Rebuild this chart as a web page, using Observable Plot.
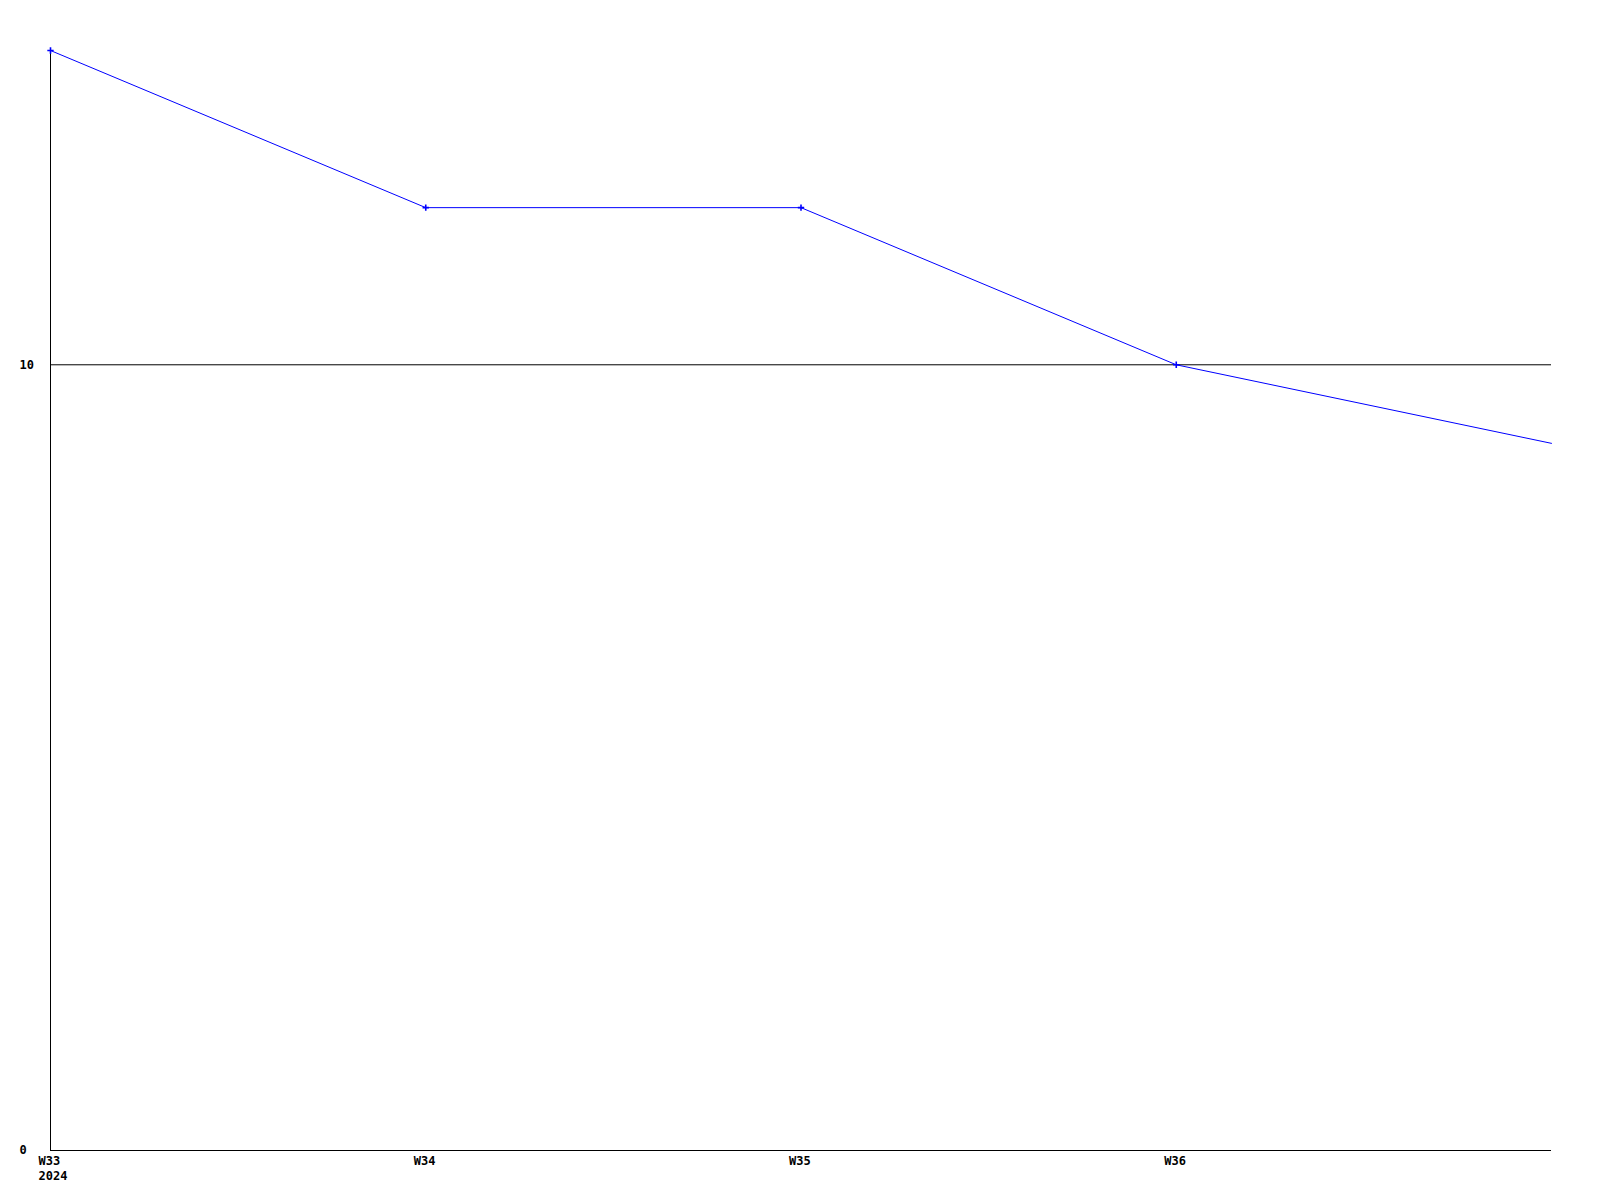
<!DOCTYPE html>
<html>
<head>
<meta charset="utf-8">
<script src="https://cdn.jsdelivr.net/npm/d3@7"></script>
<script src="https://cdn.jsdelivr.net/npm/@observablehq/plot@0.6"></script>
<style>
  html, body { margin: 0; padding: 0; background: #fff; }
  svg text { font-family: "DejaVu Sans Mono", monospace; font-weight: bold; }
</style>
</head>
<body>
<div id="chart"></div>
<script>
// Data
const weeks = [33, 34, 35, 36, 37];
const values = [14, 12, 12, 10, 9];
const markerCount = 4; // markers shown on first four weeks only
const xTicks = [33, 34, 35, 36];
const xTickLabels = ["W33\n2024", "W34", "W35", "W36"];
const yTicks = [0, 10];
const refValue = 10;

const data = weeks.map((w, i) => ({week: w, value: values[i]}));
const markers = data.slice(0, markerCount);

const chart = Plot.plot({
  width: 1600,
  height: 1200,
  marginTop: 50,
  marginBottom: 50,
  marginLeft: 50,
  marginRight: 49,
  style: {fontFamily: "DejaVu Sans Mono, monospace", fontSize: "12px", fontWeight: "bold", background: "#fff", color: "#000"},
  x: {domain: [33, 37]},
  y: {domain: [0, 14]},
  marks: [
    Plot.ruleY([refValue], {stroke: "#000", strokeWidth: 1}),
    Plot.ruleY([0], {stroke: "#000", strokeWidth: 1}),
    Plot.ruleX([33], {stroke: "#000", strokeWidth: 1}),
    Plot.line(data, {x: "week", y: "value", stroke: "#0000ff", strokeWidth: 1}),
    Plot.dot(markers, {x: "week", y: "value", symbol: "plus", r: 2.2, stroke: "#0000ff", strokeWidth: 1.6}),
    Plot.axisX({
      ticks: xTicks,
      tickFormat: (d) => xTickLabels[xTicks.indexOf(d)],
      tickSize: 0,
      tickPadding: 4,
      textAnchor: "start",
      dx: -12,
      lineHeight: 1.25,
      label: null,
      fill: "#000",
      fontWeight: "bold"
    }),
    Plot.axisY({
      ticks: yTicks,
      tickSize: 0,
      tickPadding: 0,
      textAnchor: "start",
      dx: -31,
      label: null,
      fill: "#000",
      fontWeight: "bold"
    })
  ]
});
document.getElementById("chart").appendChild(chart);
</script>
</body>
</html>
